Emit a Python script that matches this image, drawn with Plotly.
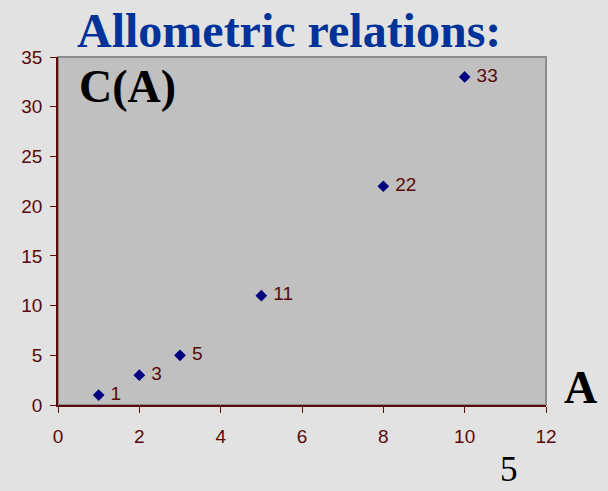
import plotly.graph_objects as go

A_vals = [1, 2, 3, 5, 8, 10]
C_vals = [1, 3, 5, 11, 22, 33]
labels = [str(v) for v in C_vals]
x_ticks = [0, 2, 4, 6, 8, 10, 12]
y_ticks = [0, 5, 10, 15, 20, 25, 30, 35]

axis_col = "#5a0a0a"
bg = "#e2e2e2"

fig = go.Figure()
fig.add_trace(go.Scatter(
    x=A_vals, y=C_vals, mode="markers+text",
    text=[" " + t for t in labels], textposition="middle right",
    textfont=dict(family="Liberation Sans, Arial", size=19, color=axis_col),
    marker=dict(symbol="diamond", size=9, color="#000080"),
    cliponaxis=False, showlegend=False,
))

fig.add_shape(type="rect", xref="x domain", yref="y domain", x0=0, x1=1, y0=0, y1=1,
              line=dict(color="#8c8c8c", width=2), layer="below")

fig.update_layout(
    width=608, height=491,
    margin=dict(l=58, r=62, t=57, b=86),
    paper_bgcolor=bg, plot_bgcolor="#c0c0c0",
    xaxis=dict(range=[0, 12], tickvals=x_ticks, showgrid=False, zeroline=False,
               showline=True, linecolor=axis_col, linewidth=1.5,
               ticks="outside", ticklen=6, tickcolor=axis_col, ticklabelstandoff=7,
               tickfont=dict(family="Liberation Sans, Arial", size=19, color=axis_col)),
    yaxis=dict(range=[0, 35], tickvals=y_ticks, showgrid=False, zeroline=False,
               showline=True, linecolor=axis_col, linewidth=1.5,
               ticks="outside", ticklen=6, tickcolor=axis_col, ticklabelstandoff=4,
               tickfont=dict(family="Liberation Sans, Arial", size=19, color=axis_col)),
    annotations=[
        dict(text="<b>Allometric relations:</b>", xref="paper", yref="paper",
             x=0.473, y=0.995, xanchor="center", yanchor="bottom", showarrow=False,
             font=dict(family="Liberation Serif, Times New Roman", size=48, color="#003399")),
        dict(text="<b>C(A)</b>", xref="paper", yref="paper", x=0.038, y=0.995,
             xanchor="left", yanchor="top", showarrow=False,
             font=dict(family="Liberation Serif, Times New Roman", size=46, color="black")),
        dict(text="<b>A</b>", xref="paper", yref="paper", x=1.032, y=-0.03,
             xanchor="left", yanchor="bottom", showarrow=False,
             font=dict(family="Liberation Serif, Times New Roman", size=46, color="black")),
        dict(text="5", xref="paper", yref="paper", x=0.924, y=-0.243,
             xanchor="center", yanchor="bottom", showarrow=False, borderpad=0,
             font=dict(family="Liberation Serif, Times New Roman", size=35, color="black")),
    ],
)

fig.write_html("out.html", config={"displayModeBar": False},
               post_script="document.body.style.margin='0';document.body.style.background='%s';" % bg)
